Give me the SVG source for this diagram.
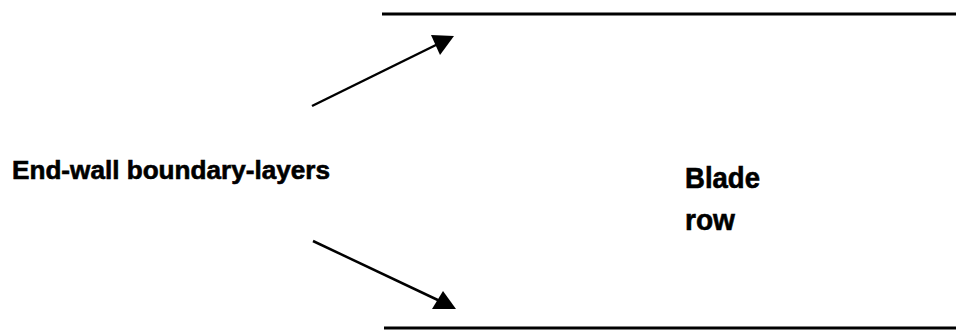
<svg xmlns="http://www.w3.org/2000/svg" width="956" height="333" viewBox="0 0 956 333">
  <style>
    .wall { stroke: #000; stroke-width: 3; fill: none; }
    .conn { stroke: #000; stroke-width: 2.5; fill: none; }
    .head { fill: #000; stroke: none; }
    .label { font-family: "Liberation Sans", Arial, sans-serif; font-weight: bold; fill: #000; stroke: #000; stroke-width: 0.6; }
  </style>
  <rect width="956" height="333" fill="#fff"/>

  <!-- end walls of the passage -->
  <g id="walls">
    <line class="wall" x1="382" y1="14" x2="956" y2="14"/>
    <line class="wall" x1="384" y1="328" x2="956" y2="328"/>
  </g>

  <!-- arrows pointing at the end-wall boundary layers -->
  <g id="connectors">
    <line class="conn" x1="312" y1="106" x2="440" y2="43"/>
    <polygon class="head" points="431,35 454,36 440,55"/>
    <line class="conn" x1="313" y1="241" x2="442" y2="302"/>
    <polygon class="head" points="432,309 443,291 456,309"/>
  </g>

  <g id="endwall-label">
    <text class="label" x="12" y="179" font-size="25" textLength="318" lengthAdjust="spacingAndGlyphs">End-wall boundary-layers</text>
  </g>

  <g id="blade-row">
    <text class="label" x="685" y="188" font-size="29" textLength="75" lengthAdjust="spacingAndGlyphs">Blade</text>
    <text class="label" x="685" y="230" font-size="29" textLength="50" lengthAdjust="spacingAndGlyphs">row</text>
  </g>
</svg>
